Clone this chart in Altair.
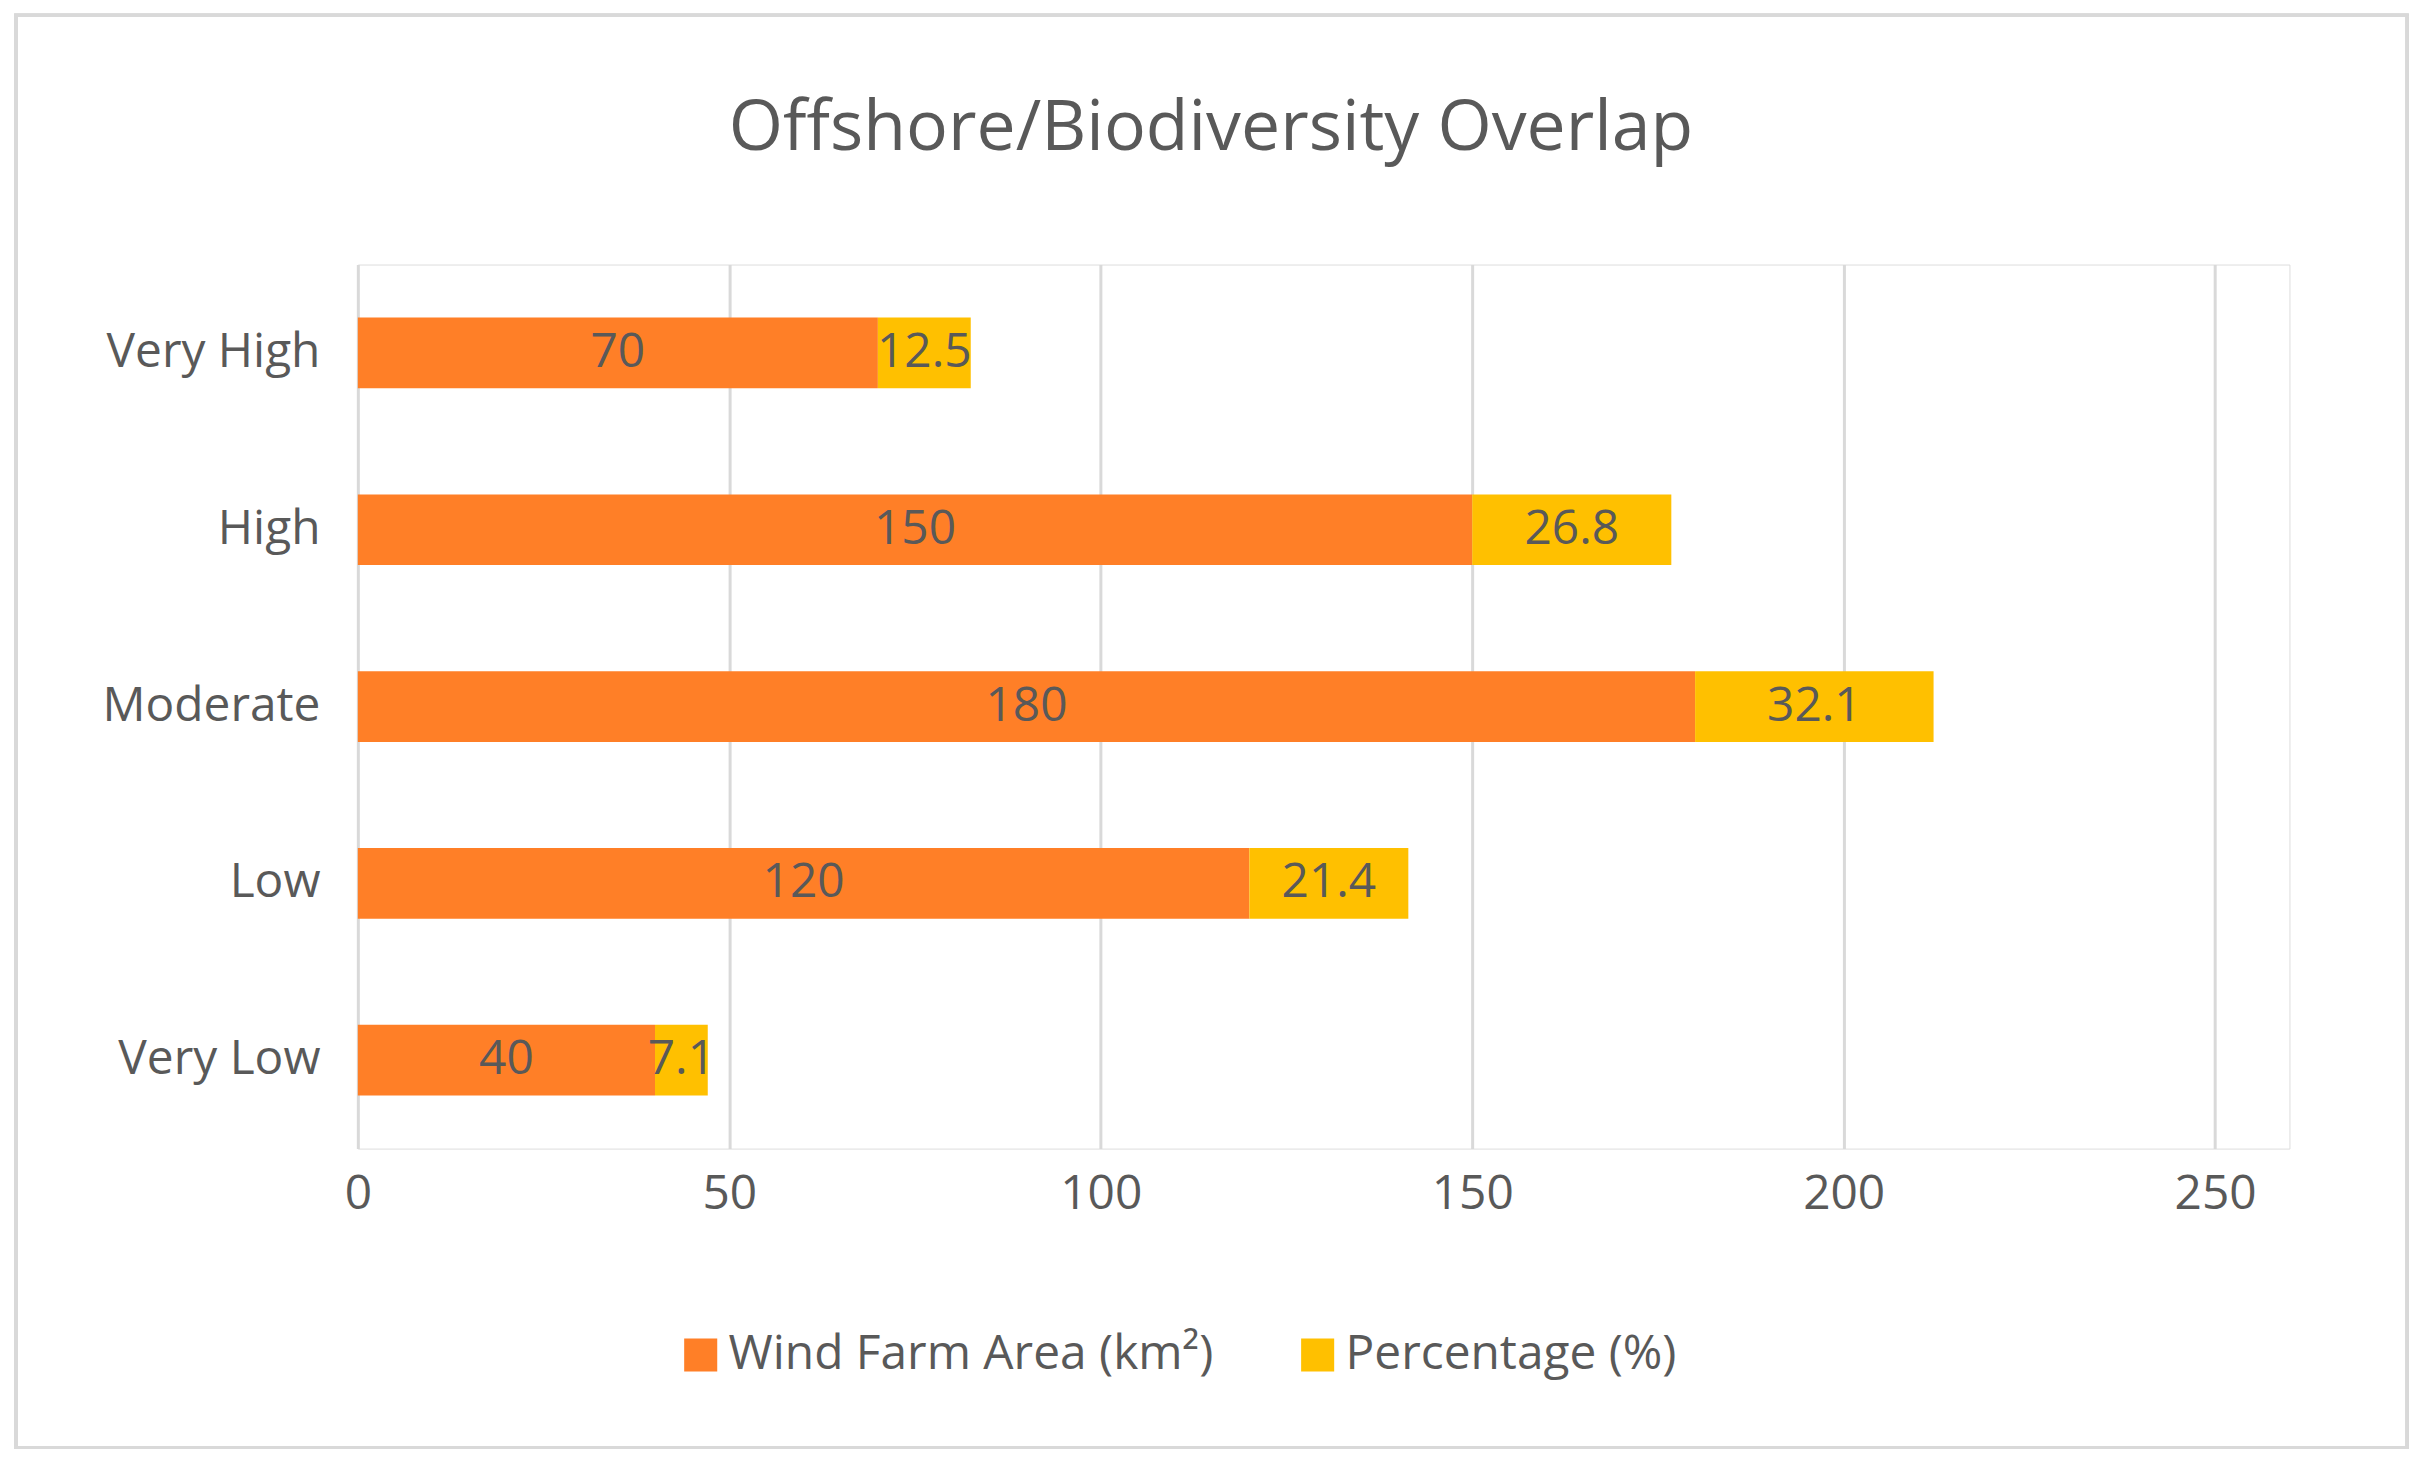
import altair as alt
import pandas as pd

levels = ["Very High", "High", "Moderate", "Low", "Very Low"]
area_km2 = [70, 150, 180, 120, 40]
percentage = [12.5, 26.8, 32.1, 21.4, 7.1]
series = ["Wind Farm Area (km²)", "Percentage (%)"]

rows = []
for lvl, a, p in zip(levels, area_km2, percentage):
    rows.append({"level": lvl, "series": series[0], "value": a, "start": 0, "end": a})
    rows.append({"level": lvl, "series": series[1], "value": p, "start": a, "end": a + p})
df = pd.DataFrame(rows)

FONT = "Open Sans"
GREY = "#595959"

base = alt.Chart(df).encode(
    y=alt.Y("level:N", sort=levels, title=None,
            scale=alt.Scale(paddingInner=0.6, paddingOuter=0.3),
            axis=alt.Axis(domain=False, ticks=False, labelFontSize=48, labelColor=GREY,
                          labelFont=FONT, labelPadding=38, grid=False, labelLimit=600))
)

bars = base.mark_bar().encode(
    x=alt.X("start:Q", title=None, scale=alt.Scale(domain=[0, 250]),
            axis=alt.Axis(values=[0, 50, 100, 150, 200, 250], domain=False, ticks=False,
                          labelFontSize=48, labelColor=GREY, labelFont=FONT, labelPadding=22,
                          gridColor="#D9D9D9", gridWidth=3, labelFlush=False)),
    x2="end:Q",
    color=alt.Color("series:N", sort=series,
                    scale=alt.Scale(domain=series, range=["#FF7F27", "#FFC000"]),
                    legend=alt.Legend(title=None, orient="none", legendX=320, legendY=1070,
                                      direction="horizontal", symbolType="square",
                                      symbolSize=1100, symbolStrokeWidth=0, labelFontSize=48,
                                      labelColor=GREY, labelFont=FONT, columnPadding=80,
                                      labelLimit=800))
)

labels = base.transform_calculate(mid="(datum.start + datum.end) / 2").mark_text(
    fontSize=48, color=GREY, font=FONT
).encode(x="mid:Q", text=alt.Text("value:Q"))

title = alt.Chart(pd.DataFrame({"t": ["Offshore/Biodiversity Overlap"]})).mark_text(
    fontSize=70, font=FONT, color=GREY, baseline="middle", align="center"
).encode(x=alt.value(856), y=alt.value(-136), text="t:N")

border = alt.Chart(df).mark_rect(fill=None, stroke="#D9D9D9", strokeWidth=3).encode(
    x=alt.value(-343), x2=alt.value(2056), y=alt.value(-250), y2=alt.value(1187)
)

chart = alt.layer(bars, labels, title, border).properties(
    width=1938, height=887,
    autosize=alt.AutoSizeParams(type="none"),
    padding={"left": 351, "top": 255, "right": 131, "bottom": 300},
).configure_view(strokeWidth=0, stroke=None).configure(background="white")

chart.save("out.html", embed_options={"renderer": "svg", "actions": False})
